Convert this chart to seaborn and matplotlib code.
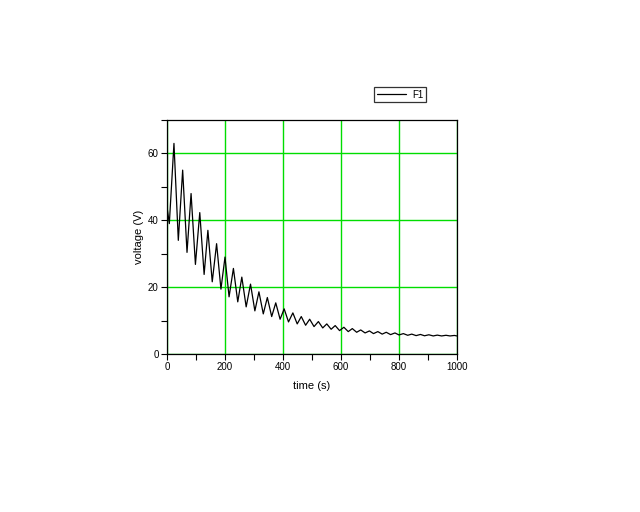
import pandas as pd
import matplotlib.pyplot as plt
import seaborn as sns
from matplotlib.ticker import MultipleLocator

# extrema (time in s, voltage in V)
start_t = [0, 8]
start_v = [44, 39]

peak_t = [24, 54, 83, 113, 141, 171, 200, 229, 258, 288, 317, 346, 375, 404, 434,
          463, 492, 522, 551, 580, 610, 639, 668, 698, 727, 756, 786, 815, 844,
          874, 903, 932, 962, 991]
peak_v = [63, 55, 48, 42.3, 37, 33, 29, 25.6, 23, 20.9, 18.6, 16.9, 15.3, 13.5, 12.3,
          11.2, 10.4, 9.7, 9.0, 8.5, 8.0, 7.6, 7.2, 6.9, 6.7, 6.5, 6.3, 6.1, 5.95,
          5.85, 5.75, 5.65, 5.6, 5.55]

trough_t = [39, 69, 98, 128, 156, 186, 214, 244, 273, 303, 332, 361, 390, 419, 449,
            478, 507, 537, 566, 595, 625, 654, 683, 712, 742, 771, 800, 830, 859,
            888, 918, 947, 976, 1000]
trough_v = [34, 30.4, 26.8, 23.8, 21.6, 19.4, 17.1, 15.6, 14.1, 12.9, 12.0, 11.2, 10.4,
            9.6, 9.0, 8.6, 8.2, 7.8, 7.4, 7.0, 6.7, 6.5, 6.3, 6.1, 5.95, 5.8, 5.7,
            5.6, 5.5, 5.45, 5.4, 5.4, 5.4, 5.4]

df = pd.DataFrame({
    "time": start_t + peak_t + trough_t,
    "voltage": start_v + peak_v + trough_v,
}).sort_values("time")

sns.set_style("white")
plt.rcParams["font.family"] = ["Liberation Sans", "DejaVu Sans"]
plt.rcParams["text.color"] = "black"
plt.rcParams["axes.labelcolor"] = "black"

fig = plt.figure(figsize=(6.4, 5.12), dpi=100)
ax = fig.add_axes([167 / 640, 1 - 354 / 512, 290 / 640, 234 / 512])

sns.lineplot(data=df, x="time", y="voltage", color="black", linewidth=0.9,
             estimator=None, label="F1", ax=ax, legend=False)

ax.set_xlim(0, 1000)
ax.set_ylim(0, 70)
ax.xaxis.set_major_locator(MultipleLocator(200))
ax.xaxis.set_minor_locator(MultipleLocator(100))
ax.yaxis.set_major_locator(MultipleLocator(20))
ax.yaxis.set_minor_locator(MultipleLocator(10))
ax.tick_params(which="both", direction="out", length=4, width=0.8,
               colors="black", labelsize=7, bottom=True, left=True)
ax.tick_params(which="major", pad=2)

ax.grid(True, which="major", color="#00dd00", linewidth=1)
ax.set_axisbelow(True)
for s in ax.spines.values():
    s.set_color("black")
    s.set_linewidth(0.9)

ax.set_xlabel("time (s)", fontsize=8, labelpad=6)
ax.set_ylabel("voltage (V)", fontsize=8, labelpad=3)

handles, labels = ax.get_legend_handles_labels()
leg = fig.legend(handles, labels, loc="center", bbox_to_anchor=(400 / 640, 1 - 94.5 / 512),
                 fontsize=7, frameon=True, fancybox=False, handlelength=3,
                 borderpad=0.3, handletextpad=0.6)
leg.get_frame().set_edgecolor("black")
leg.get_frame().set_linewidth(0.9)

fig.savefig("out.png", dpi=100, facecolor="white")
